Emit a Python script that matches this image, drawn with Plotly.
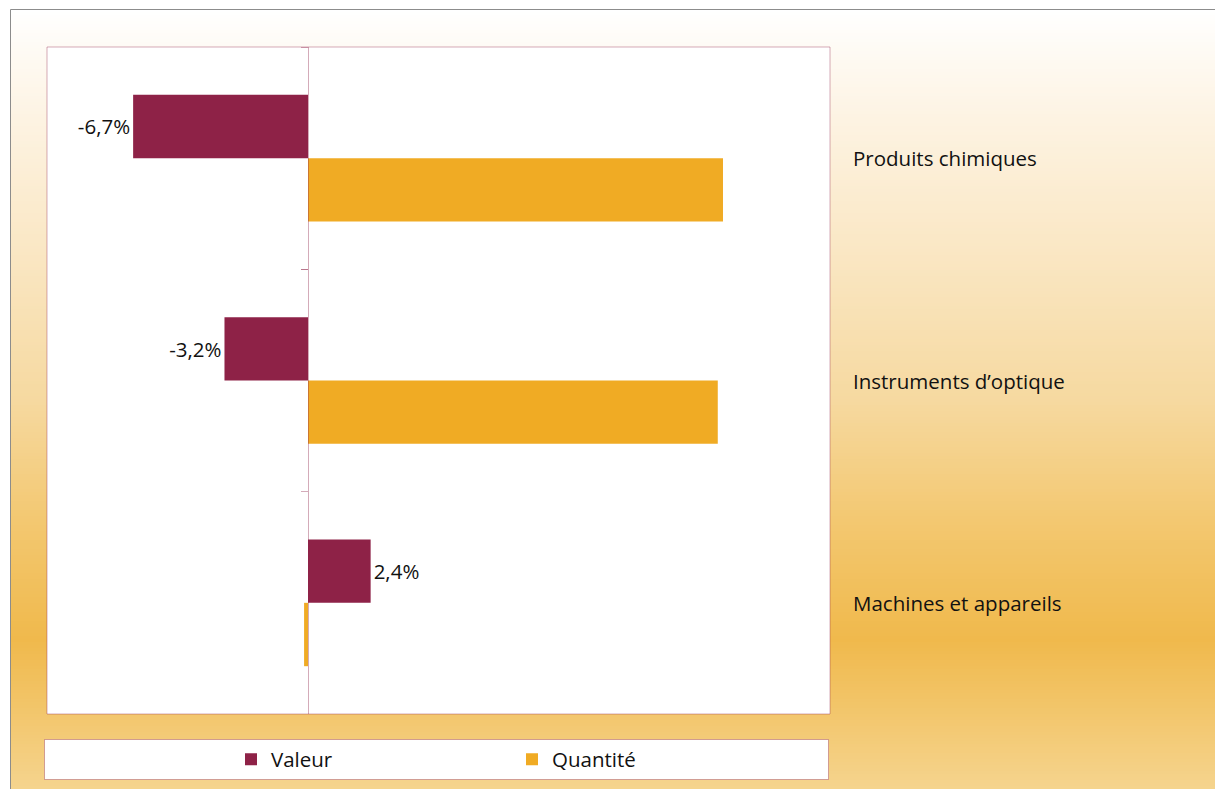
import plotly.graph_objects as go

# ---- data ----
categories = ["Produits chimiques", "Instruments d\u2019optique", "Machines et appareils"]
valeur = [-6.7, -3.2, 2.4]
quantite = [15.9, 15.7, -0.15]
series_names = ["Valeur", "Quantité"]

# ---- style ----
W, H = 1215, 789
MAROON = "#8E2247"
ORANGE = "#F0AB24"
PINK = "rgba(142,34,71,0.38)"
FONT = "Open Sans"
FSIZE = 20.5

def px_x(p):
    return p / W

def px_y(p):
    return 1 - p / H

plot_l, plot_r, plot_t, plot_b = 47, 830, 47, 714
x_range = [-10, 20]

valeur_text = [(f"{v:.1f}".replace(".", ",") + "%") for v in valeur]

fig = go.Figure()
fig.add_trace(go.Bar(
    name=series_names[0], y=categories, x=valeur, orientation="h",
    marker=dict(color=MAROON, line=dict(width=0)),
    text=valeur_text, textposition="outside", cliponaxis=False,
    textfont=dict(family=FONT, size=FSIZE, color="#111111"),
    hoverinfo="x+y",
))
fig.add_trace(go.Bar(
    name=series_names[1], y=categories, x=quantite, orientation="h",
    marker=dict(color=ORANGE, line=dict(width=0)),
    hoverinfo="x+y",
))

# ---- background gradient (vertical) ----
stops = [
    (9, (255, 255, 255)),
    (120, (253, 243, 226)),
    (250, (250, 231, 196)),
    (400, (246, 217, 160)),
    (520, (243, 200, 113)),
    (640, (240, 185, 76)),
    (789, (245, 212, 142)),
]

def color_at(y):
    for (y0, c0), (y1, c1) in zip(stops[:-1], stops[1:]):
        if y0 <= y <= y1:
            t = (y - y0) / (y1 - y0)
            return "rgb(%d,%d,%d)" % tuple(round(a + (b - a) * t) for a, b in zip(c0, c1))
    return "rgb(%d,%d,%d)" % stops[-1][1]

shapes = []
step = 3
y = 9
while y < H:
    y2 = min(y + step, H + 2)
    shapes.append(dict(type="rect", xref="paper", yref="paper", layer="below",
                       x0=px_x(10), x1=1.02, y0=px_y(y2), y1=px_y(y),
                       fillcolor=color_at(y + step / 2), line=dict(width=0)))
    y += step
# outer frame
shapes.append(dict(type="rect", xref="paper", yref="paper", layer="below",
                   x0=px_x(10.5), x1=1.05, y0=-0.05, y1=px_y(9.5),
                   fillcolor="rgba(0,0,0,0)", line=dict(color="#8C8C8C", width=1)))
# plot area white + border
shapes.append(dict(type="rect", xref="x domain", yref="y domain", layer="below",
                   x0=0, x1=1, y0=0, y1=1, fillcolor="white", line=dict(width=0)))
shapes.append(dict(type="rect", xref="x domain", yref="y domain", layer="above",
                   x0=0, x1=1, y0=0, y1=1, fillcolor="rgba(0,0,0,0)",
                   line=dict(color=PINK, width=1)))
# legend box
shapes.append(dict(type="rect", xref="paper", yref="paper", layer="below",
                   x0=px_x(44.5), x1=px_x(828.5), y0=px_y(779.5), y1=px_y(739.5),
                   fillcolor="white", line=dict(color=PINK, width=1)))

annotations = [
    dict(text=c, x=px_x(851), xref="paper", y=c, yref="y", xanchor="left",
         yanchor="middle", showarrow=False,
         font=dict(family=FONT, size=FSIZE, color="#111111"))
    for c in categories
]

x_dom = [px_x(plot_l), px_x(plot_r)]
zero_pos = x_dom[0] + (0 - x_range[0]) / (x_range[1] - x_range[0]) * (x_dom[1] - x_dom[0])

fig.update_layout(
    width=W, height=H,
    margin=dict(l=0, r=0, t=0, b=0),
    paper_bgcolor="white", plot_bgcolor="rgba(0,0,0,0)",
    separators=", ",
    barmode="group", bargap=0.43, bargroupgap=0,
    font=dict(family=FONT, size=FSIZE, color="#111111"),
    xaxis=dict(domain=x_dom, range=x_range, showgrid=False, zeroline=False,
               showticklabels=False, ticks="", showline=False, fixedrange=True),
    yaxis=dict(domain=[px_y(plot_b), px_y(plot_t)], type="category",
               categoryorder="array", categoryarray=categories,
               autorange="reversed", anchor="free", position=zero_pos,
               showgrid=False, zeroline=False, showticklabels=False,
               showline=True, linecolor=PINK, linewidth=1,
               ticks="outside", ticklen=7, tickcolor=PINK, tickwidth=1,
               tickson="boundaries", fixedrange=True),
    shapes=shapes,
    annotations=annotations,
    showlegend=True,
    legend=dict(orientation="h", x=px_x(231), xanchor="left",
                y=px_y(759.5), yanchor="middle",
                bgcolor="rgba(0,0,0,0)", borderwidth=0,
                entrywidth=236, entrywidthmode="pixels",
                font=dict(family=FONT, size=FSIZE, color="#111111"),
                traceorder="normal"),
)

fig.write_html("out.html", config={"displayModeBar": False},
               post_script="document.body.style.margin='0';document.body.style.overflow='hidden';")
